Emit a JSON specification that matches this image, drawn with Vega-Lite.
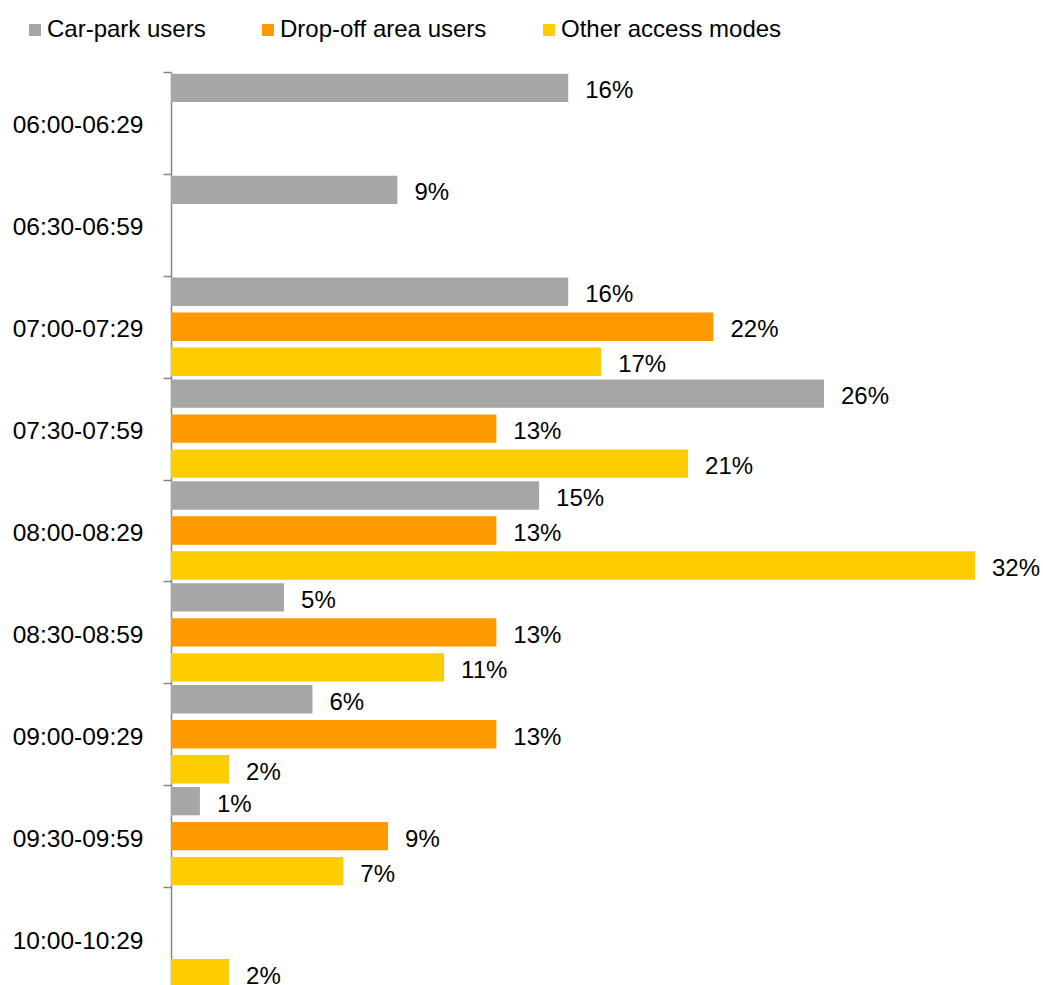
{
  "$schema": "https://vega.github.io/schema/vega-lite/v6.json",
  "width": 804,
  "height": 917,
  "autosize": {"type": "none"},
  "padding": {"left": 171, "top": 72, "right": 68, "bottom": 0},
  "background": "#ffffff",
  "config": {
    "view": {"stroke": null},
    "font": "Liberation Sans"
  },
  "data": {
    "values": [
      {"slot": "06:00-06:29", "mode": "Car-park users", "value": 15.81, "label": "16%"},
      {"slot": "06:30-06:59", "mode": "Car-park users", "value": 9.01, "label": "9%"},
      {"slot": "07:00-07:29", "mode": "Car-park users", "value": 15.81, "label": "16%"},
      {"slot": "07:00-07:29", "mode": "Drop-off area users", "value": 21.59, "label": "22%"},
      {"slot": "07:00-07:29", "mode": "Other access modes", "value": 17.12, "label": "17%"},
      {"slot": "07:30-07:59", "mode": "Car-park users", "value": 25.99, "label": "26%"},
      {"slot": "07:30-07:59", "mode": "Drop-off area users", "value": 12.95, "label": "13%"},
      {"slot": "07:30-07:59", "mode": "Other access modes", "value": 20.58, "label": "21%"},
      {"slot": "08:00-08:29", "mode": "Car-park users", "value": 14.65, "label": "15%"},
      {"slot": "08:00-08:29", "mode": "Drop-off area users", "value": 12.95, "label": "13%"},
      {"slot": "08:00-08:29", "mode": "Other access modes", "value": 32.0, "label": "32%"},
      {"slot": "08:30-08:59", "mode": "Car-park users", "value": 4.5, "label": "5%"},
      {"slot": "08:30-08:59", "mode": "Drop-off area users", "value": 12.95, "label": "13%"},
      {"slot": "08:30-08:59", "mode": "Other access modes", "value": 10.87, "label": "11%"},
      {"slot": "09:00-09:29", "mode": "Car-park users", "value": 5.63, "label": "6%"},
      {"slot": "09:00-09:29", "mode": "Drop-off area users", "value": 12.95, "label": "13%"},
      {"slot": "09:00-09:29", "mode": "Other access modes", "value": 2.31, "label": "2%"},
      {"slot": "09:30-09:59", "mode": "Car-park users", "value": 1.15, "label": "1%"},
      {"slot": "09:30-09:59", "mode": "Drop-off area users", "value": 8.64, "label": "9%"},
      {"slot": "09:30-09:59", "mode": "Other access modes", "value": 6.86, "label": "7%"},
      {"slot": "10:00-10:29", "mode": "Other access modes", "value": 2.31, "label": "2%"}
    ]
  },
  "encoding": {
    "y": {
      "field": "slot",
      "type": "nominal",
      "sort": ["06:00-06:29", "06:30-06:59", "07:00-07:29", "07:30-07:59", "08:00-08:29", "08:30-08:59", "09:00-09:29", "09:30-09:59", "10:00-10:29"],
      "scale": {"paddingInner": 0, "paddingOuter": 0},
      "axis": {
        "title": null,
        "tickBand": "extent",
        "tickSize": 8,
        "tickColor": "#868686",
        "tickWidth": 1.5,
        "domainColor": "#868686",
        "domainWidth": 1.5,
        "labelFontSize": 24.5,
        "labelFont": "Liberation Sans",
        "labelColor": "#000000",
        "labelPadding": 20,
        "labelOffset": 3,
        "grid": false
      }
    },
    "yOffset": {
      "field": "mode",
      "type": "nominal",
      "sort": ["Car-park users", "Drop-off area users", "Other access modes"],
      "scale": {"paddingInner": 0.19, "paddingOuter": 0.05}
    },
    "x": {
      "field": "value",
      "type": "quantitative",
      "scale": {"domain": [0, 32], "nice": false},
      "axis": null
    }
  },
  "layer": [
    {
      "mark": {"type": "bar"},
      "encoding": {
        "color": {
          "field": "mode",
          "type": "nominal",
          "scale": {
            "domain": ["Car-park users", "Drop-off area users", "Other access modes"],
            "range": ["#A6A6A6", "#FF9900", "#FFCC00"]
          },
          "legend": {
            "orient": "none",
            "legendX": -148,
            "legendY": -54,
            "direction": "horizontal",
            "title": null,
            "symbolType": "square",
            "symbolSize": 144,
            "symbolStrokeWidth": 0,
            "symbolOpacity": 1,
            "labelFontSize": 24,
            "labelFont": "Liberation Sans",
            "labelColor": "#000000",
            "labelOffset": 0,
            "labelLimit": 500,
            "columnPadding": 50,
            "padding": 0
          }
        }
      }
    },
    {
      "mark": {"type": "text", "align": "left", "baseline": "middle", "dx": 17, "dy": 3.5, "fontSize": 24, "font": "Liberation Sans", "color": "#000000"},
      "encoding": {
        "text": {"field": "label"}
      }
    }
  ]
}
